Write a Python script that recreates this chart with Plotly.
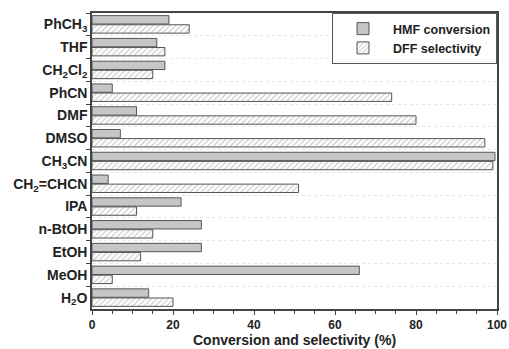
import plotly.graph_objects as go

solvents = ["PhCH<sub>3</sub>", "THF", "CH<sub>2</sub>Cl<sub>2</sub>", "PhCN", "DMF", "DMSO",
            "CH<sub>3</sub>CN", "CH<sub>2</sub>=CHCN", "IPA", "n-BtOH", "EtOH", "MeOH", "H<sub>2</sub>O"]
hmf_conversion = [19, 16, 18, 5, 11, 7, 99.5, 4, 22, 27, 27, 66, 14]
dff_selectivity = [24, 18, 15, 74, 80, 97, 99, 51, 11, 15, 12, 5, 20]
x_ticks = [0, 20, 40, 60, 80, 100]
x_title = "Conversion and selectivity (%)"

FAM = "Liberation Sans, Arial, sans-serif"
font = dict(family=FAM, color="#222")

fig = go.Figure()
fig.add_trace(go.Bar(
    y=solvents, x=hmf_conversion, orientation="h", name="HMF conversion",
    marker=dict(color="#c6c6c6", line=dict(color="#555", width=1)),
))
fig.add_trace(go.Bar(
    y=solvents, x=dff_selectivity, orientation="h", name="DFF selectivity",
    marker=dict(color="white", line=dict(color="#555", width=1),
                pattern=dict(shape="/", fgcolor="#999", bgcolor="white", size=4, solidity=0.3)),
))

fig.update_layout(
    width=509, height=349,
    margin=dict(l=92, r=12, t=13, b=40),
    paper_bgcolor="white", plot_bgcolor="white",
    barmode="group", bargap=0.2, bargroupgap=0.08,
    font=font,
    showlegend=True,
    legend=dict(x=1.0, y=1.0, xanchor="right", yanchor="top",
                bordercolor="#555", borderwidth=1, bgcolor="white",
                font=dict(family=FAM, size=12.5, color="#222", weight="bold"),
                tracegroupgap=0, itemwidth=50),
    annotations=[dict(text=x_title, xref="paper", yref="paper", x=0.5, y=-31 / 296,
                      xanchor="center", yanchor="middle", showarrow=False,
                      font=dict(family=FAM, size=14, color="#222", weight="bold"))],
)
fig.update_xaxes(
    range=[0, 100], tickvals=x_ticks,
    ticks="outside", ticklen=4, tickcolor="#444",
    minor=dict(dtick=5, ticks="outside", ticklen=3, tickcolor="#444", showgrid=False),
    showline=True, linecolor="#444", linewidth=1.5, mirror=True,
    showgrid=False, zeroline=False, automargin=False,
    tickfont=dict(size=12, weight="bold"),
)
fig.update_yaxes(
    autorange="reversed", type="category", automargin=False,
    tickson="boundaries", ticks="outside", ticklen=4, tickcolor="#444",
    showline=True, linecolor="#444", linewidth=1.5, mirror=True,
    showgrid=True, gridcolor="#e6e6e6", griddash="dot",
    tickfont=dict(size=14, weight="bold"),
)

fig.write_html("out.html", config={"displayModeBar": False},
               post_script="document.body.style.margin='0';")
